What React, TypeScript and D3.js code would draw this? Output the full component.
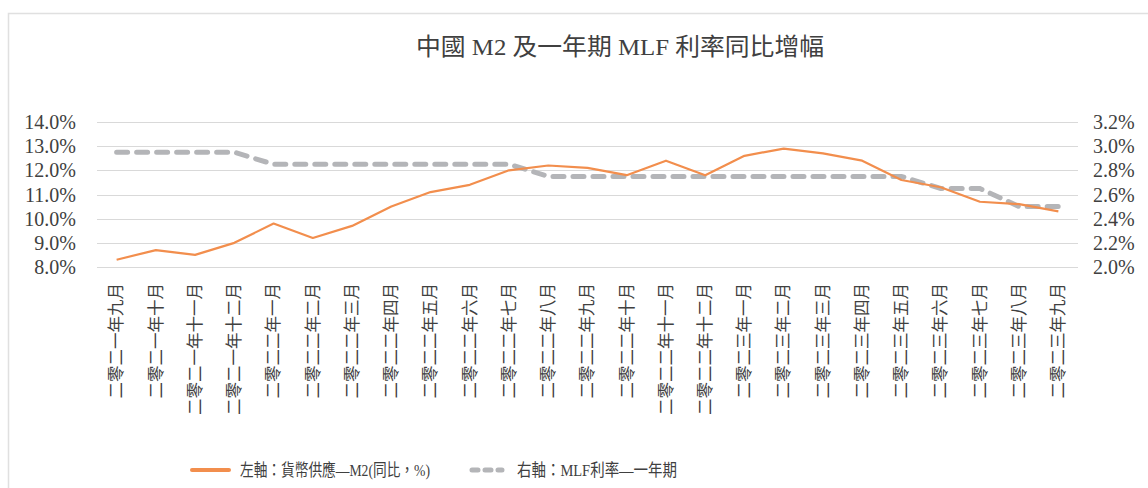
import { useEffect, useRef } from "react";
import * as d3 from "d3";

const months = [
  "二零二一年九月", "二零二一年十月", "二零二一年十一月", "二零二一年十二月",
  "二零二二年一月", "二零二二年二月", "二零二二年三月", "二零二二年四月",
  "二零二二年五月", "二零二二年六月", "二零二二年七月", "二零二二年八月",
  "二零二二年九月", "二零二二年十月", "二零二二年十一月", "二零二二年十二月",
  "二零二三年一月", "二零二三年二月", "二零二三年三月", "二零二三年四月",
  "二零二三年五月", "二零二三年六月", "二零二三年七月", "二零二三年八月",
  "二零二三年九月",
];

// M2 同比 (%)
const m2 = [
  8.3, 8.7, 8.5, 9.0, 9.8, 9.2, 9.7, 10.5, 11.1, 11.4, 12.0, 12.2, 12.1,
  11.8, 12.4, 11.8, 12.6, 12.9, 12.7, 12.4, 11.6, 11.3, 10.7, 10.6, 10.3,
];

// 一年期 MLF 利率 (%)
const mlf = [
  2.95, 2.95, 2.95, 2.95, 2.85, 2.85, 2.85, 2.85, 2.85, 2.85, 2.85, 2.75,
  2.75, 2.75, 2.75, 2.75, 2.75, 2.75, 2.75, 2.75, 2.75, 2.65, 2.65, 2.5, 2.5,
];

const leftTicks = [8, 9, 10, 11, 12, 13, 14];
const rightTicks = [2.0, 2.2, 2.4, 2.6, 2.8, 3.0, 3.2];

const title = "中國 M2 及一年期 MLF 利率同比增幅";
const legendM2 = "左軸：貨幣供應—M2(同比，%)";
const legendMlf = "右軸：MLF利率—一年期";

const serif = "'Liberation Serif', 'Noto Sans CJK TC', serif";
const cjk = "'Liberation Serif', 'Noto Sans CJK TC', sans-serif";

function Chart() {
  const ref = useRef<SVGSVGElement>(null);

  const W = 1148,
    H = 488;
  const plot = { left: 97, right: 1078, top: 122, bottom: 267 };

  useEffect(() => {
    if (!ref.current) return;
    const svg = d3.select(ref.current);
    svg.selectAll("*").remove();

    // chart frame
    svg
      .append("rect")
      .attr("x", 8.5)
      .attr("y", 13.5)
      .attr("width", W + 20)
      .attr("height", H + 20)
      .attr("fill", "#fff")
      .attr("stroke", "#e0e0e0")
      .attr("stroke-width", 1.5);

    const x = d3
      .scaleBand<string>()
      .domain(months)
      .range([plot.left, plot.right]);
    const cx = (d: string) => x(d)! + x.bandwidth() / 2;

    const yL = d3.scaleLinear().domain([8, 14]).range([plot.bottom, plot.top]);
    const yR = d3.scaleLinear().domain([2.0, 3.2]).range([plot.bottom, plot.top]);

    // gridlines
    svg
      .append("g")
      .selectAll("line")
      .data(leftTicks)
      .enter()
      .append("line")
      .attr("x1", plot.left)
      .attr("x2", plot.right)
      .attr("y1", (d) => Math.round(yL(d)) + 0.5)
      .attr("y2", (d) => Math.round(yL(d)) + 0.5)
      .attr("stroke", "#d9d9d9")
      .attr("stroke-width", 1);

    // left axis labels
    svg
      .append("g")
      .selectAll("text")
      .data(leftTicks)
      .enter()
      .append("text")
      .attr("x", 76)
      .attr("y", (d) => yL(d))
      .attr("dy", "0.35em")
      .attr("text-anchor", "end")
      .style("font-family", serif)
      .style("font-size", "20px")
      .attr("fill", "#404040")
      .text((d) => d.toFixed(1) + "%");

    // right axis labels
    svg
      .append("g")
      .selectAll("text")
      .data(rightTicks)
      .enter()
      .append("text")
      .attr("x", 1093)
      .attr("y", (d) => yR(d))
      .attr("dy", "0.35em")
      .attr("text-anchor", "start")
      .style("font-family", serif)
      .style("font-size", "20px")
      .attr("fill", "#404040")
      .text((d) => d.toFixed(1) + "%");

    // category labels (rotated)
    svg
      .append("g")
      .selectAll("text")
      .data(months)
      .enter()
      .append("text")
      .attr("transform", (d) => `translate(${cx(d)}, 283) rotate(-90)`)
      .attr("text-anchor", "end")
      .attr("dy", "0.35em")
      .style("font-family", cjk)
      .style("font-size", "16.5px")
      .attr("fill", "#404040")
      .text((d) => d);

    // MLF line (right axis)
    const mlfLine = d3
      .line<number>()
      .x((_, i) => cx(months[i]))
      .y((d) => yR(d));
    svg
      .append("path")
      .datum(mlf)
      .attr("d", mlfLine)
      .attr("fill", "none")
      .attr("stroke", "#b4b5b8")
      .attr("stroke-width", 5)
      .attr("stroke-linecap", "round")
      .attr("stroke-dasharray", "11 9");

    // M2 line (left axis)
    const m2Line = d3
      .line<number>()
      .x((_, i) => cx(months[i]))
      .y((d) => yL(d));
    svg
      .append("path")
      .datum(m2)
      .attr("d", m2Line)
      .attr("fill", "none")
      .attr("stroke", "#f28e4d")
      .attr("stroke-width", 2.2)
      .attr("stroke-linejoin", "round");

    // title
    svg
      .append("text")
      .attr("x", 620)
      .attr("y", 55)
      .attr("text-anchor", "middle")
      .attr("textLength", 408)
      .attr("lengthAdjust", "spacingAndGlyphs")
      .style("font-family", serif)
      .style("font-size", "24px")
      .attr("fill", "#404040")
      .text(title);

    // legend
    const lg = svg.append("g");
    lg.append("line")
      .attr("x1", 192)
      .attr("x2", 229)
      .attr("y1", 470)
      .attr("y2", 470)
      .attr("stroke", "#f28e4d")
      .attr("stroke-width", 4)
      .attr("stroke-linecap", "round");
    lg.append("text")
      .attr("x", 240)
      .attr("y", 470)
      .attr("dy", "0.35em")
      .attr("textLength", 190)
      .attr("lengthAdjust", "spacingAndGlyphs")
      .style("font-family", serif)
      .style("font-size", "17px")
      .attr("fill", "#404040")
      .text(legendM2);
    lg.append("line")
      .attr("x1", 472)
      .attr("x2", 502)
      .attr("y1", 470)
      .attr("y2", 470)
      .attr("stroke", "#b4b5b8")
      .attr("stroke-width", 5)
      .attr("stroke-linecap", "round")
      .attr("stroke-dasharray", "6 7");
    lg.append("text")
      .attr("x", 517)
      .attr("y", 470)
      .attr("dy", "0.35em")
      .attr("textLength", 160)
      .attr("lengthAdjust", "spacingAndGlyphs")
      .style("font-family", serif)
      .style("font-size", "17px")
      .attr("fill", "#404040")
      .text(legendMlf);
  }, []);

  return (
    <svg
      ref={ref}
      width={W}
      height={H}
      style={{ position: "absolute", left: 0, top: 0, background: "#fff" }}
    />
  );
}

export default function App() {
  return <Chart />;
}
